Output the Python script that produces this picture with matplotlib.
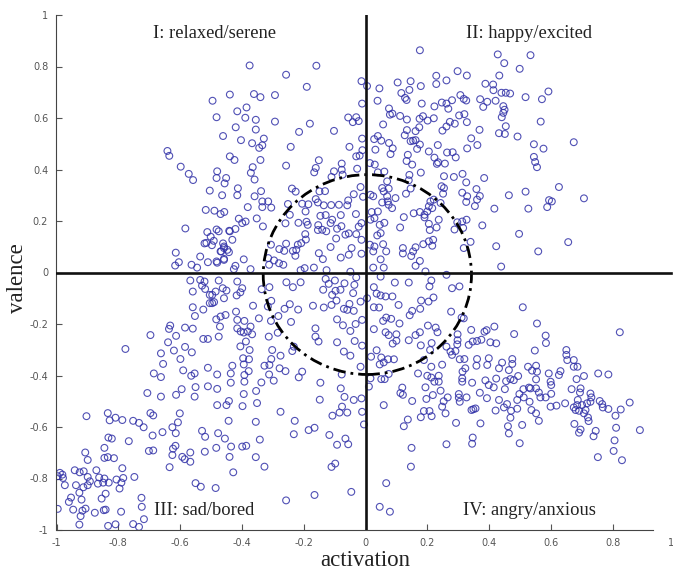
import matplotlib
matplotlib.use("Agg")
import matplotlib.pyplot as plt
from matplotlib.patches import Ellipse

# points, one list per quadrant (activation, valence)
relaxed = [
    (-.641,.472),(-.635,.453),(-.598,.411),(-.572,.383),(-.558,.359),(-.495,.667),(-.482,.603),(-.461,.530),
    (-.439,.691),(-.439,.451),(-.480,.393),(-.482,.367),(-.451,.367),(-.456,.346),(-.504,.318),(-.464,.300),
    (-.517,.243),(-.489,.240),(-.469,.227),(-.457,.235),(-.583,.171),(-.512,.157),(-.482,.167),(-.475,.160),
    (-.441,.162),(-.501,.139),(-.521,.113),(-.515,.115),(-.497,.106),(-.491,.123),(-.461,.113),(-.469,.082),
    (-.458,.095),(-.447,.088),(-.614,.077),(-.604,.040),(-.616,.027),(-.563,.030),(-.545,.019),(-.535,.062),
    (-.510,.040),(-.480,.038),(-.458,.053),(-.375,.804),(-.257,.768),(-.159,.803),(-.190,.721),(-.013,.743),
    (-.361,.693),(-.340,.681),(-.293,.689),(-.385,.641),(-.415,.626),(-.389,.601),(-.355,.593),(-.293,.586),
    (-.180,.578),(-.420,.564),(-.355,.555),(-.215,.546),(-.102,.550),(-.403,.514),(-.329,.520),(-.367,.502),
    (-.334,.494),(-.344,.484),(-.242,.488),(-.052,.488),(-.011,.520),(-.056,.602),(-.030,.603),(-.041,.584),
    (-.022,.588),(-.011,.656),(-.424,.437),(-.340,.437),(-.151,.436),(-.257,.415),(-.161,.406),(-.166,.389),
    (-.077,.423),(-.077,.399),(-.102,.393),(-.074,.380),(-.110,.371),(-.027,.403),(-.030,.451),(-.019,.454),
    (-.010,.475),(-.365,.409),(-.371,.387),(-.359,.361),(-.413,.327),(-.415,.300),(-.338,.316),(-.359,.296),
    (-.334,.276),(-.315,.276),(-.334,.254),(-.305,.252),(-.381,.254),(-.238,.326),(-.226,.314),(-.251,.266),
    (-.205,.267),(-.185,.265),(-.161,.285),(-.154,.272),(-.149,.315),(-.131,.316),(-.135,.261),(-.111,.262),
    (-.086,.263),(-.056,.280),(-.038,.304),(-.059,.261),(-.008,.294),(-.016,.332),(-.194,.237),(-.245,.224),
    (-.146,.220),(-.129,.223),(-.108,.205),(-.080,.223),(-.031,.227),(-.410,.209),(-.388,.198),(-.399,.192),
    (-.352,.210),(-.332,.179),(-.259,.191),(-.217,.193),(-.191,.197),(-.187,.185),(-.153,.184),(-.154,.165),
    (-.140,.166),(-.127,.160),(-.113,.192),(-.092,.170),(-.078,.180),(-.054,.152),(-.030,.149),(-.013,.192),
    (-.022,.178),(-.065,.147),(-.095,.132),(-.195,.149),(-.193,.128),(-.421,.169),(-.439,.160),(-.431,.127),
    (-.306,.108),(-.257,.112),(-.279,.091),(-.263,.084),(-.235,.084),(-.219,.108),(-.224,.088),(-.208,.114),
    (-.227,.065),(-.113,.099),(-.045,.095),(-.054,.069),(-.080,.058),(-.013,.127),(-.013,.073),(-.151,.075),
    (-.138,.052),(-.394,.051),(-.421,.026),(-.426,.013),(-.372,.013),(-.315,.056),(-.296,.047),(-.280,.036),
    (-.266,.030),(-.312,.030),(-.210,.009),(-.197,.017),(-.167,.019),(-.126,.009),(-.049,.003),(-.458,.101),
    (-.442,.079),(-.467,.082),(-.458,.049),(-.482,.043),
]
happy = [
    (.176,.863),(.428,.847),(.534,.844),(.449,.813),(.499,.791),(.298,.782),(.328,.765),(.229,.764),
    (.433,.765),(.146,.743),(.262,.746),(.104,.738),(.229,.732),(.179,.724),(.388,.733),(.413,.730),
    (.414,.708),(.045,.715),(.005,.724),(.142,.709),(.116,.697),(.128,.678),(.133,.670),(.307,.689),
    (.318,.674),(.326,.668),(.440,.698),(.454,.698),(.468,.695),(.518,.681),(.592,.703),(.571,.673),
    (.039,.667),(.182,.656),(.223,.645),(.247,.660),(.280,.669),(.262,.656),(.268,.636),(.371,.673),
    (.394,.663),(.381,.643),(.421,.667),(.446,.646),(.450,.632),(.446,.620),(.441,.603),(.076,.637),
    (.087,.617),(.079,.613),(.112,.608),(.134,.594),(.186,.607),(.175,.597),(.201,.590),(.221,.599),
    (.303,.610),(.320,.615),(.328,.584),(.057,.575),(.273,.585),(.289,.578),(.262,.567),(.249,.551),
    (.174,.564),(.162,.549),(.134,.553),(.127,.533),(.369,.554),(.454,.568),(.567,.586),(.432,.541),
    (.451,.538),(.492,.528),(.674,.506),(.545,.498),(.576,.481),(.028,.518),(.040,.530),(.051,.512),
    (.076,.503),(.032,.477),(.088,.482),(.081,.460),(.146,.510),(.154,.512),(.162,.514),(.176,.497),
    (.167,.480),(.234,.495),(.342,.521),(.362,.495),(.329,.482),(.205,.470),(.264,.466),(.282,.467),
    (.292,.447),(.137,.457),(.133,.433),(.151,.419),(.223,.446),(.235,.428),(.231,.422),(.257,.423),
    (.545,.449),(.549,.429),(.555,.409),(.014,.425),(.030,.419),(.061,.392),(.040,.389),(.142,.379),
    (.179,.388),(.254,.374),(.286,.371),(.314,.383),(.384,.367),(.326,.350),(.140,.358),(.246,.335),
    (.254,.328),(.251,.306),(.070,.354),(.054,.328),(.075,.326),(.059,.315),(.359,.324),(.313,.310),
    (.329,.296),(.370,.297),(.361,.283),(.326,.274),(.354,.258),(.131,.306),(.146,.326),(.464,.300),
    (.518,.314),(.626,.332),(.707,.288),(.594,.281),(.603,.276),(.588,.254),(.527,.248),(.417,.248),
    (.016,.302),(.025,.296),(.070,.296),(.097,.289),(.072,.276),(.054,.272),(.075,.263),(.086,.250),
    (.210,.276),(.221,.283),(.205,.257),(.216,.250),(.243,.270),(.237,.205),(.020,.235),(.040,.237),
    (.124,.215),(.156,.230),(.176,.235),(.191,.224),(.200,.237),(.191,.214),(.205,.189),(.230,.175),
    (.208,.165),(.016,.205),(.029,.211),(.061,.193),(.046,.185),(.112,.175),(.297,.195),(.313,.198),
    (.327,.205),(.288,.167),(.316,.173),(.378,.183),(.497,.150),(.038,.144),(.049,.153),(.014,.108),
    (.057,.110),(.029,.101),(.025,.082),(.067,.082),(.121,.095),(.121,.074),(.162,.098),(.187,.110),
    (.205,.121),(.219,.127),(.216,.104),(.154,.082),(.148,.064),(.176,.045),(.162,.026),(.049,.051),
    (.025,.019),(.059,.019),(.340,.119),(.318,.095),(.423,.102),(.559,.082),(.656,.118),(.439,.023),
    (.194,.004),
]
sad = [
    (-.567,-.031),(-.535,-.029),(-.521,-.035),(-.529,-.051),(-.519,-.064),(-.559,-.074),(-.504,-.087),(-.559,-.135),
    (-.552,-.169),(-.525,-.144),(-.504,-.119),(-.632,-.206),(-.636,-.219),(-.584,-.214),(-.559,-.218),(-.696,-.243),
    (-.613,-.246),(-.525,-.258),(-.510,-.258),(-.777,-.297),(-.639,-.271),(-.584,-.289),(-.562,-.310),(-.620,-.303),
    (-.662,-.314),(-.599,-.336),(-.655,-.355),(-.590,-.380),(-.510,-.370),(-.685,-.392),(-.662,-.406),(-.564,-.401),
    (-.553,-.392),(-.550,-.445),(-.510,-.442),(-.595,-.453),(-.613,-.475),(-.662,-.482),(-.706,-.468),(-.553,-.482),
    (-.903,-.558),(-.834,-.546),(-.809,-.564),(-.828,-.574),(-.787,-.573),(-.752,-.576),(-.733,-.584),(-.718,-.601),
    (-.696,-.546),(-.687,-.555),(-.601,-.547),(-.607,-.582),(-.625,-.601),(-.614,-.624),(-.657,-.620),(-.689,-.633),
    (-.529,-.615),(-.519,-.638),(-.832,-.641),(-.821,-.645),(-.766,-.655),(-.845,-.681),(-.615,-.673),(-.623,-.684),
    (-.701,-.693),(-.687,-.691),(-.567,-.699),(-.520,-.696),(-.625,-.709),(-.907,-.699),(-.899,-.728),(-.845,-.720),
    (-.834,-.717),(-.814,-.721),(-.593,-.716),(-.585,-.725),(-.567,-.735),(-.634,-.756),(-.550,-.818),(-.533,-.832),
    (-.787,-.760),(-.989,-.778),(-.981,-.785),(-.996,-.791),(-.979,-.798),(-.973,-.826),(-.941,-.768),(-.925,-.776),
    (-.912,-.772),(-.871,-.768),(-.899,-.794),(-.892,-.811),(-.899,-.826),(-.937,-.826),(-.913,-.834),(-.862,-.796),
    (-.845,-.800),(-.866,-.820),(-.849,-.816),(-.831,-.816),(-.806,-.804),(-.784,-.798),(-.790,-.816),(-.796,-.839),
    (-.748,-.794),(-.841,-.859),(-.854,-.878),(-.953,-.874),(-.960,-.891),(-.926,-.855),(-.919,-.882),(-.725,-.875),
    (-.996,-.918),(-.946,-.921),(-.916,-.925),(-.906,-.917),(-.922,-.946),(-.926,-.979),(-.876,-.933),(-.847,-.923),
    (-.841,-.921),(-.791,-.929),(-.724,-.910),(-.833,-.984),(-.809,-.978),(-.752,-.977),(-.733,-.988),(-.717,-.958),
    (-.475,-.031),(-.462,-.061),(-.450,-.070),(-.485,-.074),(-.496,-.087),(-.458,-.100),(-.496,-.119),(-.490,-.115),
    (-.415,-.035),(-.399,-.061),(-.405,-.077),(-.417,-.089),(-.364,-.129),(-.336,-.065),(-.311,-.057),(-.305,-.110),
    (-.316,-.132),(-.256,-.038),(-.235,-.057),(-.210,-.038),(-.245,-.123),(-.262,-.141),(-.218,-.144),(-.170,-.129),
    (-.135,-.136),(-.110,-.126),(-.129,-.025),(-.119,-.044),(-.099,-.031),(-.068,-.042),(-.030,-.019),(-.036,-.048),
    (-.137,-.067),(-.108,-.087),(-.097,-.071),(-.081,-.067),(-.094,-.109),(-.040,-.080),(-.016,-.113),(-.052,-.122),
    (-.070,-.141),(-.059,-.145),(-.038,-.149),(-.011,-.184),(-.092,-.182),(-.073,-.205),(-.032,-.200),(-.049,-.227),
    (-.092,-.271),(-.035,-.266),(-.011,-.284),(-.162,-.217),(-.162,-.249),(-.152,-.268),(-.070,-.307),(-.049,-.323),
    (-.016,-.366),(-.077,-.396),(-.237,-.305),(-.232,-.288),(-.205,-.385),(-.216,-.407),(-.146,-.428),(-.080,-.450),
    (-.068,-.483),(-.038,-.495),(-.013,-.489),(-.148,-.494),(-.011,-.541),(-.005,-.590),(-.076,-.521),(-.084,-.544),
    (-.059,-.544),(-.107,-.556),(-.275,-.541),(-.229,-.576),(-.232,-.628),(-.184,-.612),(-.165,-.603),(-.117,-.631),
    (-.065,-.645),(-.056,-.667),(-.092,-.669),(-.342,-.649),(-.355,-.580),(-.443,-.576),(-.351,-.507),(-.398,-.519),
    (-.442,-.499),(-.450,-.515),(-.480,-.515),(-.394,-.472),(-.354,-.460),(-.480,-.452),(-.436,-.428),(-.392,-.424),
    (-.337,-.427),(-.297,-.420),(-.312,-.396),(-.278,-.372),(-.259,-.383),(-.392,-.398),(-.378,-.383),(-.436,-.392),
    (-.431,-.362),(-.480,-.396),(-.394,-.357),(-.396,-.333),(-.377,-.337),(-.327,-.362),(-.311,-.359),(-.305,-.336),
    (-.275,-.323),(-.302,-.301),(-.405,-.287),(-.387,-.268),(-.375,-.301),(-.404,-.229),(-.394,-.233),(-.381,-.229),
    (-.367,-.240),(-.415,-.217),(-.372,-.210),(-.392,-.188),(-.419,-.152),(-.415,-.184),(-.483,-.182),(-.469,-.171),
    (-.453,-.165),(-.471,-.210),(-.475,-.249),(-.345,-.178),(-.306,-.188),(-.284,-.234),(-.313,-.249),(-.241,-.192),
    (-.282,-.169),(-.435,-.676),(-.399,-.676),(-.386,-.673),(-.477,-.624),(-.455,-.645),(-.483,-.681),(-.440,-.716),
    (-.355,-.717),(-.327,-.754),(-.428,-.776),(-.110,-.755),(-.098,-.742),(-.257,-.885),(-.165,-.864),(-.046,-.852),
    (-.485,-.837),
]
angry = [
    (.049,-.016),(.095,-.039),(.140,-.039),(.207,-.054),(.213,-.031),(.280,-.061),(.304,-.054),(.262,-.009),
    (.027,-.057),(.036,-.082),(.049,-.089),(.065,-.093),(.087,-.093),(.005,-.100),(.027,-.135),(.044,-.136),
    (.107,-.126),(.180,-.109),(.204,-.113),(.220,-.097),(.177,-.141),(.151,-.149),(.143,-.166),(.277,-.152),
    (.311,-.175),(.318,-.178),(.509,-.135),(.067,-.175),(.057,-.188),(.083,-.180),(.110,-.198),(.027,-.220),
    (.065,-.232),(.075,-.243),(.100,-.240),(.100,-.265),(.088,-.276),(.140,-.263),(.162,-.243),(.176,-.232),
    (.202,-.206),(.227,-.214),(.233,-.232),(.179,-.283),(.214,-.274),(.209,-.301),(.298,-.240),(.298,-.263),
    (.297,-.279),(.262,-.288),(.275,-.307),(.291,-.305),(.280,-.320),(.342,-.223),(.385,-.230),(.392,-.224),
    (.417,-.210),(.481,-.239),(.555,-.198),(.583,-.245),(.584,-.274),(.347,-.268),(.334,-.281),(.361,-.266),
    (.375,-.261),(.404,-.271),(.423,-.275),(.036,-.302),(.018,-.327),(.051,-.330),(.073,-.337),(.092,-.337),
    (.059,-.349),(.046,-.357),(.189,-.340),(.548,-.303),(.650,-.301),(.650,-.320),(.653,-.340),(.674,-.340),
    (.674,-.366),(.686,-.366),(.305,-.337),(.320,-.336),(.361,-.336),(.399,-.333),(.475,-.336),(.248,-.358),
    (.213,-.366),(.359,-.362),(.394,-.359),(.442,-.350),(.475,-.355),(.432,-.372),(.464,-.379),(.526,-.366),
    (.552,-.362),(.539,-.381),(.555,-.385),(.631,-.383),(.626,-.398),(.593,-.392),(.753,-.392),(.786,-.396),
    (.323,-.372),(.314,-.385),(.313,-.411),(.345,-.428),(.313,-.424),(.170,-.392),(.200,-.401),(.213,-.408),
    (.237,-.401),(.237,-.424),(.223,-.424),(.194,-.446),(.243,-.459),(.016,-.411),(.051,-.414),(.075,-.394),
    (.062,-.414),(.011,-.443),(.388,-.419),(.423,-.412),(.399,-.437),(.415,-.446),(.455,-.422),(.451,-.453),
    (.469,-.414),(.480,-.418),(.494,-.402),(.552,-.415),(.599,-.424),(.601,-.437),(.683,-.414),(.707,-.402),
    (.667,-.453),(.696,-.450),(.694,-.466),(.728,-.470),(.731,-.485),(.511,-.453),(.529,-.447),(.534,-.450),
    (.552,-.450),(.561,-.466),(.119,-.447),(.113,-.468),(.121,-.475),(.151,-.499),(.218,-.476),(.197,-.491),
    (.266,-.485),(.253,-.500),(.248,-.521),(.302,-.472),(.302,-.486),(.305,-.502),(.327,-.485),(.370,-.467),
    (.393,-.488),(.432,-.495),(.458,-.511),(.448,-.524),(.421,-.536),(.491,-.495),(.498,-.472),(.512,-.485),
    (.531,-.502),(.566,-.485),(.583,-.485),(.601,-.471),(.059,-.515),(.343,-.534),(.356,-.528),(.349,-.531),
    (.491,-.529),(.471,-.537),(.537,-.534),(.552,-.547),(.469,-.564),(.561,-.576),(.599,-.521),(.618,-.517),
    (.646,-.508),(.687,-.495),(.674,-.524),(.685,-.515),(.701,-.515),(.717,-.508),(.728,-.502),(.758,-.499),
    (.766,-.511),(.680,-.534),(.691,-.537),(.712,-.534),(.707,-.547),(.720,-.563),(.722,-.577),(.768,-.524),
    (.786,-.530),(.826,-.532),(.855,-.505),(.809,-.556),(.189,-.538),(.207,-.538),(.179,-.562),(.214,-.558),
    (.137,-.571),(.124,-.597),(.259,-.547),(.293,-.584),(.372,-.586),(.461,-.597),(.507,-.592),(.464,-.625),
    (.347,-.641),(.345,-.665),(.499,-.663),(.262,-.667),(.149,-.681),(.147,-.754),(.067,-.818),(.046,-.910),
    (.079,-.929),(.676,-.588),(.696,-.610),(.691,-.622),(.745,-.615),(.738,-.636),(.811,-.603),(.888,-.612),
    (.806,-.652),(.803,-.693),(.830,-.729),(.752,-.717),(.823,-.232),
]

tick_values = [-1, -0.8, -0.6, -0.4, -0.2, 0, 0.2, 0.4, 0.6, 0.8, 1]
tick_labels = ["-1", "-0.8", "-0.6", "-0.4", "-0.2", "0", "0.2", "0.4", "0.6", "0.8", "1"]

plt.rcParams["font.family"] = ["Liberation Serif", "DejaVu Serif"]

fig = plt.figure(figsize=(6.73, 5.74), dpi=100)
ax = fig.add_axes([56.5 / 673, 44 / 574, 618 / 673, 515 / 574])

for group in [relaxed, happy, sad, angry]:
    xs = [p[0] for p in group]
    ys = [p[1] for p in group]
    ax.scatter(xs, ys, s=24, facecolors="none", edgecolors="#3232a8", linewidths=0.8, alpha=0.85, zorder=2)

ax.add_patch(Ellipse((0.006, -0.008), 0.674, 0.776, fill=False, edgecolor="black", linewidth=2,
                     linestyle=(0, (4.5, 1.8, 1, 1.8)), zorder=3))
ax.axhline(0, xmax=0.995, color="#111111", linewidth=1.9, zorder=4)
ax.axvline(0, color="#111111", linewidth=1.9, zorder=4)

ax.set_xlim(-1, 1)
ax.set_ylim(-1, 1)
ax.set_xticks(tick_values)
ax.set_xticklabels(tick_labels)
ax.set_yticks(tick_values)
ax.set_yticklabels(tick_labels)
ax.tick_params(direction="in", length=4, width=0.8, color="#555555", labelcolor="#555555", pad=6)
for lab in ax.get_xticklabels() + ax.get_yticklabels():
    lab.set_family(["DejaVu Sans"])
    lab.set_fontsize(7)
# the last tick sits on the picture's edge
ax.get_xticklabels()[-1].set_ha("right")

ax.spines["top"].set_visible(False)
ax.spines["right"].set_visible(False)
ax.spines["left"].set_color("#444444")
ax.spines["bottom"].set_color("#444444")
ax.spines["bottom"].set_bounds(-1, 0.93)

box = dict(facecolor="white", edgecolor="none", pad=1.5)
ax.text(-0.688, 0.928, "I: relaxed/serene", fontsize=13.3, color="#222222", va="center", bbox=box, zorder=5)
ax.text(0.325, 0.928, "II: happy/excited", fontsize=13.3, color="#222222", va="center", bbox=box, zorder=5)
ax.text(-0.685, -0.925, "III: sad/bored", fontsize=13.3, color="#222222", va="center", bbox=box, zorder=5)
ax.text(0.315, -0.925, "IV: angry/anxious", fontsize=13.3, color="#222222", va="center", bbox=box, zorder=5)

ax.set_xlabel("activation", fontsize=16.5, color="#222222")
ax.xaxis.set_label_coords(0.5, -0.038)
ax.set_ylabel("valence", fontsize=16.5, color="#222222")
ax.yaxis.set_label_coords(-0.046, 0.49)

fig.savefig("out.png", dpi=100)
